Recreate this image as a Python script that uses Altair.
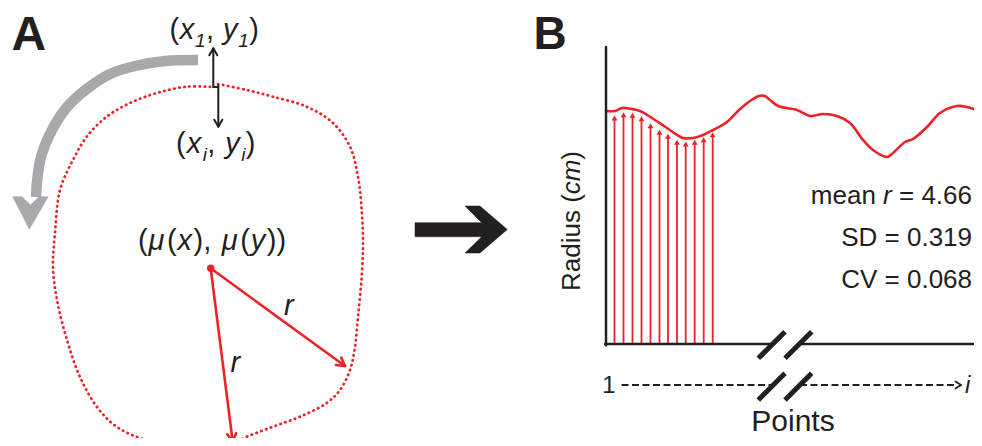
import math
import altair as alt
import pandas as pd

RED = "#ec2227"
BLACK = "#231f20"
GRAY = "#a7a9ac"
FONT = "Liberation Sans"

# ---------------- data (image pixel coordinates of the schematic) ----------------
# Panel A: dotted cell contour
contour_x = [218, 246.7, 273, 306.7, 333, 350, 358, 361.7, 363, 361.7, 358, 355, 350, 340, 326.7,
             300, 273, 246.7, 233, 210, 187, 147, 117, 97, 80, 67, 57, 53, 55, 60, 73, 86.7,
             106.7, 130, 156.7, 186.7, 213]
contour_y = [84, 90, 96.7, 106.7, 123, 146.7, 176.7, 210, 243, 276.7, 316.7, 346.7, 370, 390, 403,
             416.7, 426.7, 436.7, 443, 445, 443, 440, 427, 407, 377, 340, 300, 267, 233, 190, 160,
             136.7, 116.7, 103, 93, 86.7, 87]

# Panel A: grey curved arrow (shaft and head)
arc_x = [198, 165, 135, 110, 88, 67, 52, 41, 37, 36]
arc_y = [60, 61, 66, 74, 88, 107, 130, 157, 182, 197]
arc_head_x = [12.7, 22, 30.5, 39, 48.3, 29.3, 12.7]
arc_head_y = [196.7, 196.7, 205, 196.7, 196.7, 229.3, 196.7]

# centroid and the two radii
center = (210.7, 268.3)
radius_tips_x = [345, 232.7]
radius_tips_y = [366, 441.7]

# Big black arrow between the panels
big_arrow_x = [415, 481.7, 465, 480, 507.3, 480, 465, 481.7, 415, 415]
big_arrow_y = [222.7, 222.7, 206, 206, 229.5, 253, 253, 236.7, 236.7, 222.7]

# Panel B: radius profile
curve_x = [606, 615, 622, 632, 640, 652, 667, 683, 693, 703, 713, 727, 740, 750, 759, 765, 770,
           778, 797, 810, 823, 837, 850, 863, 873, 887, 893, 905, 913, 927, 940, 957, 967, 982]
curve_y = [111, 111, 108, 109, 111, 118, 128, 138, 138, 135, 130, 122, 109, 101, 96, 96, 100,
           106, 110, 116, 114, 116, 123, 140, 150, 157, 153, 142, 139, 127, 113, 106, 107, 112]
arrow_x = [614.5, 623.5, 632.5, 641.5, 650.5, 659.5, 668, 677, 685.7, 694.7, 703.7, 712.7]
arrow_tip = [115, 111.7, 112.3, 115.7, 122.7, 129.3, 133.3, 139.3, 141, 139.3, 136.7, 131.7]

stats_lines = [["mean ", "r", " = 4.66"], ["SD = 0.319"], ["CV = 0.068"]]

# ---------------- helpers ----------------
W = {'(': 333, ')': 333, ',': 278, ' ': 278, 'x': 500, 'y': 500, '1': 556, 'i': 222, 'μ': 576,
     'R': 722, 'a': 556, 'd': 556, 'u': 556, 's': 500, 'c': 500, 'm': 833, 'e': 556, 'n': 556,
     'r': 333, '=': 584, '4': 556, '.': 278, '6': 556, 'S': 667, 'D': 722, '0': 556, '3': 556,
     '9': 556, 'C': 722, 'V': 667, '8': 556}


def tw(t, s):
    return sum(W.get(c, 556) for c in t) * s / 1000.0


def run(pieces, x0, y0, total=None, vertical=False):
    widths = [tw(t, s) for t, st, s, dy in pieces]
    k = (total / sum(widths)) if total else 1.0
    rows, off = [], 0.0
    for (t, st, s, dy), w in zip(pieces, widths):
        lead = len(t) - len(t.lstrip(" "))
        pos = off + tw(" " * lead, s) * k
        body = t.strip(" ")
        if body:
            if vertical:
                rows.append(dict(x=x0, y=y0 - pos, t=body, st=st, s=s, a=270))
            else:
                rows.append(dict(x=x0 + pos, y=y0 + dy, t=body, st=st, s=s, a=0))
        off += w * k
    return rows


def wings(x0, y0, x1, y1, back, half):
    dx, dy = x1 - x0, y1 - y0
    L = math.hypot(dx, dy)
    ux, uy = dx / L, dy / L
    px, py = -uy, ux
    bx, by = x1 - back * ux, y1 - back * uy
    return [(x1, y1, bx + half * px, by + half * py), (x1, y1, bx - half * px, by - half * py)]


# ---------------- tables ----------------
contour = pd.DataFrame({"x": contour_x, "y": contour_y, "o": range(len(contour_x))})
arc = pd.DataFrame({"x": arc_x, "y": arc_y, "o": range(len(arc_x))})
arc_head = pd.DataFrame({"x": arc_head_x, "y": arc_head_y, "o": range(len(arc_head_x))})
big_arrow = pd.DataFrame({"x": big_arrow_x, "y": big_arrow_y, "o": range(len(big_arrow_x))})
curve = pd.DataFrame({"x": curve_x, "y": curve_y, "o": range(len(curve_x))})

segs = []
# (x1, y1) <-> (xi, yi) arrows
segs.append((213.3, 87, 213.3, 49, 2, BLACK))
segs += [s + (2, BLACK) for s in wings(213.3, 87, 213.3, 48.3, 7, 4)]
segs.append((213.3, 87, 218.3, 87, 2, BLACK))
segs.append((218.3, 85, 218.3, 126, 2, BLACK))
segs += [s + (2, BLACK) for s in wings(218.3, 85, 218.3, 126.7, 7, 4)]
# radii
for tx, ty in zip(radius_tips_x, radius_tips_y):
    segs.append((center[0], center[1], tx, ty, 2.6, RED))
    segs += [s + (2.6, RED) for s in wings(center[0], center[1], tx, ty, 8, 4.5)]
# panel B vertical arrows
for ax, at in zip(arrow_x, arrow_tip):
    segs.append((ax, 344, ax, at + 4, 1.8, RED))
# axes
segs.append((606, 47, 606, 345.2, 2.5, BLACK))
segs.append((605, 344, 772.6, 344, 2.5, BLACK))
segs.append((799.3, 344, 982, 344, 2.5, BLACK))
# dashed index arrow head
segs += [s + (1.8, BLACK) for s in wings(930, 385, 961, 385, 5.5, 3.5)]
segs_df = pd.DataFrame(segs, columns=["x", "y", "x2", "y2", "w", "c"])

slashes = pd.DataFrame({
    "x": [758.3, 785, 758.3, 785], "y": [358.3, 358.3, 400, 400],
    "x2": [785, 811.7, 785, 811.7], "y2": [331.7, 331.7, 373.3, 373.3]})
dashed = pd.DataFrame({"x": [621.5, 800], "y": [385, 385], "x2": [773.3, 956], "y2": [385, 385]})
heads = pd.DataFrame({"x": arrow_x, "y": [t + 3 for t in arrow_tip]})
dot = pd.DataFrame({"x": [center[0]], "y": [center[1]]})

# text
rows = []
rows += run([("(", "n", 29, 0), ("x", "i", 29, 0), ("1", "i", 19, 8), (",", "n", 29, 0),
             (" ", "n", 29, 0), ("y", "i", 29, 0), ("1", "i", 19, 8), (")", "n", 29, 0)],
            169.5, 38.5, total=90)
rows += run([("(", "n", 29, 0), ("x", "i", 29, 0), ("i", "i", 19, 8), (",", "n", 29, 0),
             (" ", "n", 29, 0), ("y", "i", 29, 0), ("i", "i", 19, 8), (")", "n", 29, 0)],
            176, 153.3, total=80.5)
rows += run([("(", "n", 29, 0), ("μ", "i", 29, 0), ("(", "n", 29, 0), ("x", "i", 29, 0),
             ("),", "n", 29, 0), (" ", "n", 29, 0), ("μ", "i", 29, 0), ("(", "n", 29, 0),
             ("y", "i", 29, 0), ("))", "n", 29, 0)], 138, 250, total=150)
rows += run([("r", "i", 29, 0)], 284, 315)
rows += run([("r", "i", 29, 0)], 230.5, 371.7)
rows += run([("Radius (", "n", 26, 0), ("cm", "i", 26, 0), (")", "n", 26, 0)],
            580, 291, total=140, vertical=True)
stat_right = 972
stat_y = [203.5, 245.5, 288]
for parts, sy in zip(stats_lines, stat_y):
    sx = stat_right - sum(tw(p, 26) for p in parts)
    rows += run([(p, "i" if p == "r" else "n", 26, 0) for p in parts], sx, sy)
rows += run([("i", "i", 24, 0)], 965, 393)
text_df = pd.DataFrame(rows)
upright = text_df[text_df.st == "n"]
italic = text_df[text_df.st == "i"]

centered = pd.DataFrame({"x": [609, 793], "y": [393, 431], "t": ["1", "Points"], "s": [24, 30]})
bold = pd.DataFrame({"x": [11.5, 533.5], "y": [50, 49.3], "t": ["A", "B"], "s": [48, 46]})

# ---------------- chart ----------------
# Plot area covers page pixels 8..974 x 8..438 (page has an 8px margin)
xs = alt.Scale(domain=[8, 974], nice=False, zero=False)
ys = alt.Scale(domain=[8, 438], nice=False, zero=False, reverse=True)
X = alt.X("x:Q", scale=xs, axis=None)
Y = alt.Y("y:Q", scale=ys, axis=None)

contour_l = alt.Chart(contour).mark_line(
    color=RED, strokeWidth=2.7, strokeDash=[0.5, 4.6], strokeCap="round",
    interpolate="catmull-rom").encode(X, Y, order="o:Q")
arc_l = alt.Chart(arc).mark_line(color=GRAY, strokeWidth=10.5, strokeCap="butt",
                                 interpolate="catmull-rom").encode(X, Y, order="o:Q")
arc_head_l = alt.Chart(arc_head).mark_line(fill=GRAY, stroke=GRAY, strokeWidth=0.5,
                                           interpolate="linear").encode(X, Y, order="o:Q")
big_l = alt.Chart(big_arrow).mark_line(fill=BLACK, stroke=BLACK, strokeWidth=0.5,
                                       interpolate="linear").encode(X, Y, order="o:Q")
curve_l = alt.Chart(curve).mark_line(color=RED, strokeWidth=2.6,
                                     interpolate="catmull-rom").encode(X, Y, order="o:Q")
segs_l = alt.Chart(segs_df).mark_rule(strokeCap="round").encode(
    X, Y, x2="x2:Q", y2="y2:Q",
    size=alt.Size("w:Q", scale=None), color=alt.Color("c:N", scale=None))
slash_l = alt.Chart(slashes).mark_rule(color=BLACK, strokeWidth=5, strokeCap="butt").encode(
    X, Y, x2="x2:Q", y2="y2:Q")
dash_l = alt.Chart(dashed).mark_rule(color=BLACK, strokeWidth=2, strokeDash=[7, 3.5],
                                     strokeCap="butt").encode(X, Y, x2="x2:Q", y2="y2:Q")
heads_l = alt.Chart(heads).mark_point(shape="triangle-up", filled=True, size=34, color=RED,
                                      opacity=1).encode(X, Y)
dot_l = alt.Chart(dot).mark_circle(size=55, color=RED, opacity=1).encode(X, Y)


def text_layer(df, **kw):
    return alt.Chart(df).mark_text(font=FONT, color=BLACK, baseline="alphabetic", **kw).encode(
        X, Y, text="t:N", size=alt.Size("s:Q", scale=None),
        angle=alt.Angle("a:Q", scale=None))


up_l = text_layer(upright, align="left")
it_l = text_layer(italic, align="left", fontStyle="italic")
cen_l = alt.Chart(centered).mark_text(font=FONT, color=BLACK, baseline="alphabetic",
                                      align="center").encode(
    X, Y, text="t:N", size=alt.Size("s:Q", scale=None))
bold_l = alt.Chart(bold).mark_text(font=FONT, color=BLACK, baseline="alphabetic",
                                   align="left", fontWeight="bold").encode(
    X, Y, text="t:N", size=alt.Size("s:Q", scale=None))

chart = alt.layer(
    contour_l, arc_l, arc_head_l, big_l, curve_l, segs_l, slash_l, dash_l, heads_l, dot_l,
    up_l, it_l, cen_l, bold_l
).properties(
    width=966, height=430, padding=0, autosize=alt.AutoSizeParams(type="none")
).configure_view(stroke=None)

chart.save("out.html", embed_options={"renderer": "svg", "actions": False})
